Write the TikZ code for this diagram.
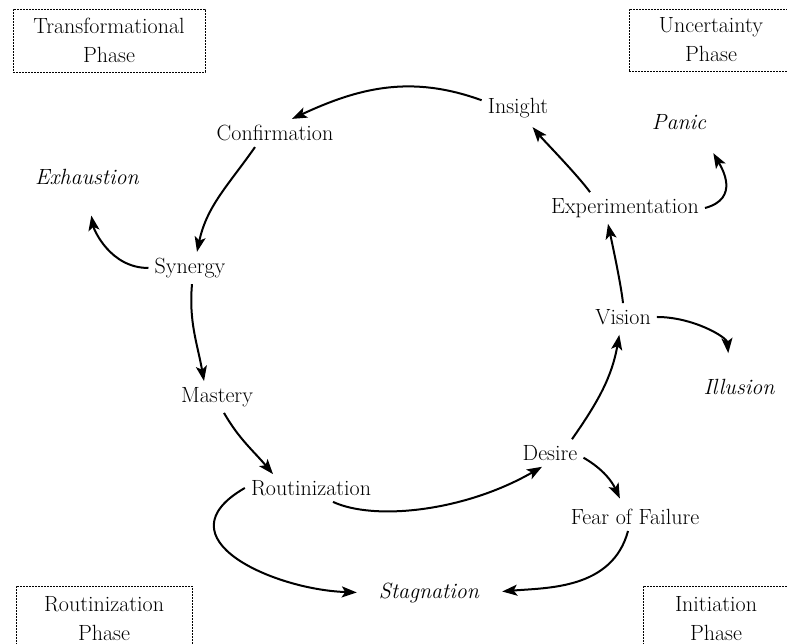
\documentclass[tikz,border=0pt]{standalone}
\usepackage{fontspec}
\usetikzlibrary{arrows.meta}
\tikzset{
    stage/.style={
        inner sep=6pt,
        font=\fontsize{22}{29}\selectfont
    },
    trap/.style={
        stage,
        font=\fontsize{22}{29}\selectfont\itshape
    },
    phase/.style={
        draw, line width=0.6pt, dash pattern=on 2pt off 1pt,
        align=center, inner sep=0pt,
        font=\fontsize{22}{29}\selectfont
    },
    flow/.style={
        -{Stealth[length=15pt,width=11pt,inset=3.5pt]},
        line width=2pt
    }
}
\newcommand{\phaseBox}[5] {
	\node[phase, minimum width=#3, minimum height=#4] (#1) at (#2) {#5};
}

\begin{document}
\begin{tikzpicture}[x=1pt,y=1pt]
		\useasboundingbox (0,0) rectangle (787,644);
		\clip (0,0) rectangle (787,644);
		
		% Phase boxes
		\phaseBox{transform}{109,603.5}{192pt}{63pt}{Transformational\\Phase}
		\phaseBox{uncertain}{711,604}{164pt}{62pt}{Uncertainty\\Phase}
		\phaseBox{routinephase}{104,25.5}{176pt}{65pt}{Routinization\\Phase}
		\phaseBox{initiation}{716,25.5}{146pt}{65pt}{Initiation\\Phase}
		
		% Stages of the cycle
		\node[stage] (insight) at (518,536) {Insight};
		\node[stage] (confirm) at (275,511) {Confirmation};
		\node[stage] (synergy) at (190,376) {Synergy};
		\node[stage] (mastery) at (217,247) {Mastery};
		\node[stage] (routine) at (311,156) {Routinization};
		\node[stage] (desire) at (550,191) {Desire};
		\node[stage] (fear) at (635,127) {Fear of Failure};
		\node[stage] (vision) at (623,327) {Vision};
		\node[stage] (experiment) at (625,436) {Experimentation};
		
		% Dead ends
		\node[trap] (panic) at (679,522) {Panic};
		\node[trap] (exhaust) at (87,467) {Exhaustion};
		\node[trap] (illusion) at (739,257) {Illusion};
		\node[trap] (stagnation) at (429,51) {Stagnation};
		
		% Cycle
		\draw[flow] (insight.168) to[out=160, in=25] ([xshift=17pt]confirm.north);
		\draw[flow] ([xshift=-20pt]confirm.south) to[out=235, in=78] ([xshift=7pt]synergy.north);
		\draw[flow] ([xshift=2pt]synergy.south) to[out=-95, in=100] ([xshift=-13pt]mastery.north);
		\draw[flow] ([xshift=7pt]mastery.south) to[out=-60, in=130] ([xshift=-38pt]routine.north);
		\draw[flow] ([xshift=22pt]routine.south) to[out=-25, in=-150, out distance=45pt, in distance=90pt] ([xshift=-8pt]desire.south);
		\draw[flow, shorten >=4pt] ([xshift=22pt]desire.north) to[out=55, in=-100] ([xshift=-3pt]vision.south);
		\draw[flow] (vision.north) to[out=96, in=-78, looseness=0.6] ([xshift=-17pt]experiment.south);
		\draw[flow, shorten >=4pt] ([xshift=-35pt]experiment.north) to[out=126, in=-50, looseness=0.6] ([xshift=12pt]insight.south);
		
		% Side exits
		\draw[flow, shorten >=25pt] (synergy.west) to[out=180, in=-80] (exhaust.south);
		\draw[flow, shorten >=20pt] (experiment.east) to[out=15, in=-60, looseness=1.3] ([xshift=-9pt]panic.south east);
		\draw[flow, shorten >=20pt] (vision.east) to[out=0, in=95] ([xshift=-9pt]illusion.north);
		\draw[flow, shorten >=5pt] (desire.-8) to[out=-30, in=115] ([xshift=-13pt]fear.north);
		\draw[flow, shorten >=16pt] (routine.west) to[out=210, in=178, out distance=100pt, in distance=100pt] (stagnation.west);
		\draw[flow, shorten >=17pt] ([xshift=-7pt]fear.south) to[out=-105, in=5] (stagnation.east);
	\end{tikzpicture}
\end{document}
